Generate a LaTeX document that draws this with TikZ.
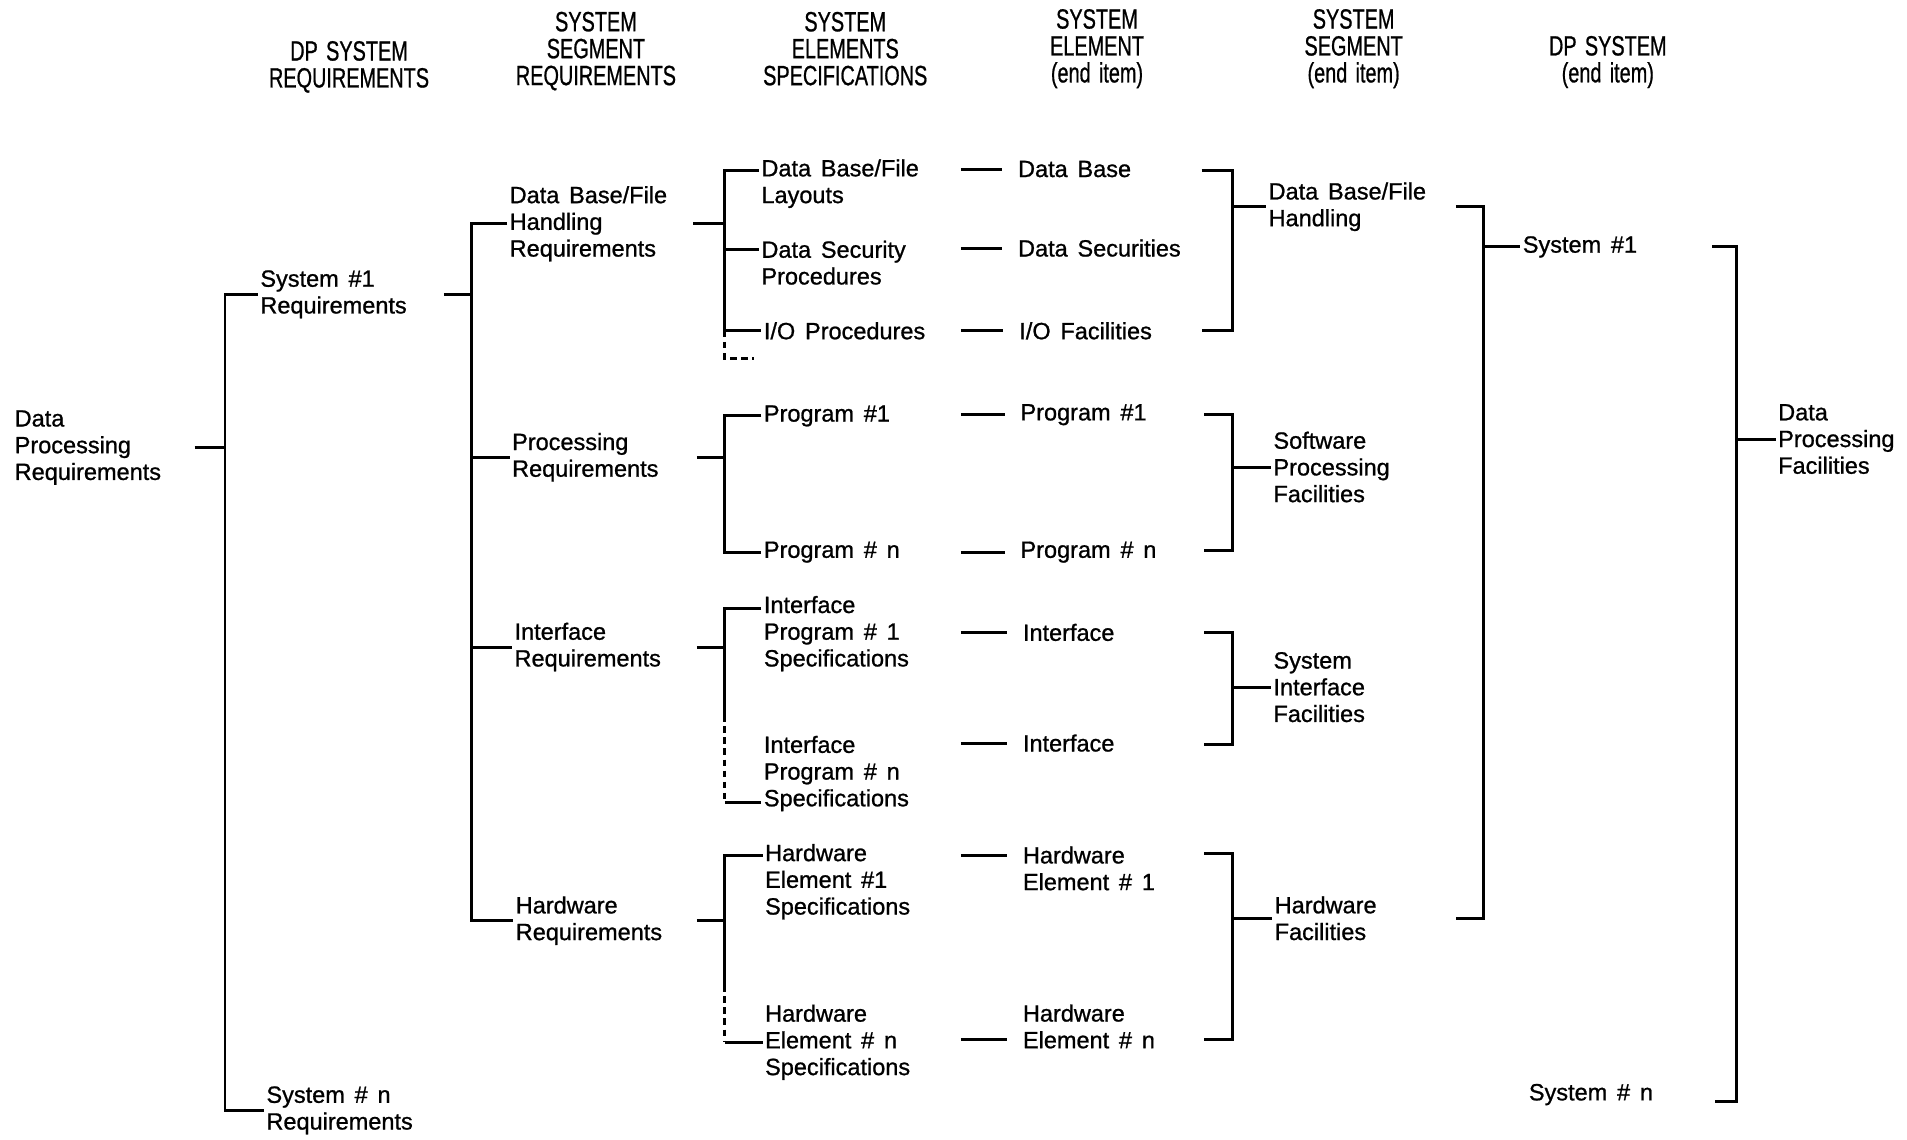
\documentclass[tikz,border=0pt]{standalone}
\usepackage{fontspec}
\setmainfont{Liberation Sans}[FakeBold=0.9, WordSpace=1.5]
\begin{document}
\begin{tikzpicture}[x=0.02cm,y=-0.02cm,
  lbl/.style={anchor=west,align=left,inner sep=1pt,font=\fontsize{11}{12.5}\selectfont},
  hdr/.style={align=center,inner sep=0pt,font=\fontsize{9.3}{9}\selectfont,yscale=1.4,transform shape},
  wire/.style={line width=1.4pt},
  gap/.style={line width=1.4pt,dash pattern=on 3pt off 2.2pt},
  tie/.style={wire,shorten >=0.22cm}]
\useasboundingbox (0,0) rectangle (1568,937);

% ---------- column headings ----------
\node[hdr] (h1) at (287,55) {DP SYSTEM\\REQUIREMENTS};
\node[hdr] (h2) at (490,42) {SYSTEM\\SEGMENT\\REQUIREMENTS};
\node[hdr] (h3) at (695,40) {SYSTEM\\ELEMENTS\\SPECIFICATIONS};
\node[hdr] (h4) at (902,40) {SYSTEM\\ELEMENT\\(end item)};
\node[hdr] (h5) at (1113,40) {SYSTEM\\SEGMENT\\(end item)};
\node[hdr] (h6) at (1322,51) {DP SYSTEM\\(end item)};

% ---------- requirements side ----------
\node[lbl] (dpr) at (10,368) {Data\\Processing\\Requirements};
\node[lbl] (sys1r) at (212,242) {System \#1\\Requirements};
\node[lbl] (sysnr) at (217,913) {System \# n\\Requirements};

\node[lbl] (dbfh) at (417,184) {Data Base/File\\Handling\\Requirements};
\node[lbl] (procr) at (419,376) {Processing\\Requirements};
\node[lbl] (intr) at (421,532) {Interface\\Requirements};
\node[lbl] (hwr) at (422,757) {Hardware\\Requirements};

% specifications
\node[lbl] (dbl) at (624,151) {Data Base/File\\Layouts};
\node[lbl] (dsp) at (624,216) {Data Security\\Procedures};
\node[lbl] (iop) at (626,272) {I/O Procedures};
\node[lbl] (p1) at (626,342) {Program \#1};
\node[lbl] (pn) at (626,454) {Program \# n};
\node[lbl] (ip1) at (626,521) {Interface\\Program \# 1\\Specifications};
\node[lbl] (ipn) at (626,636) {Interface\\Program \# n\\Specifications};
\node[lbl] (he1) at (627,725) {Hardware\\Element \#1\\Specifications};
\node[lbl] (hen) at (627,857) {Hardware\\Element \# n\\Specifications};

% ---------- end item side ----------
\node[lbl] (eDB) at (835,139) {Data Base};
\node[lbl] (eDS) at (835,204) {Data Securities};
\node[lbl] (eIO) at (836,272) {I/O Facilities};
\node[lbl] (eP1) at (837,341) {Program \#1};
\node[lbl] (ePn) at (837,454) {Program \# n};
\node[lbl] (eI1) at (839,520) {Interface};
\node[lbl] (eIn) at (839,611) {Interface};
\node[lbl] (eH1) at (839,714) {Hardware\\Element \# 1};
\node[lbl] (eHn) at (839,844) {Hardware\\Element \# n};

\node[lbl] (sDB) at (1041,170) {Data Base/File\\Handling};
\node[lbl] (sSW) at (1045,384) {Software\\Processing\\Facilities};
\node[lbl] (sSI) at (1045,565) {System\\Interface\\Facilities};
\node[lbl] (sHW) at (1046,755) {Hardware\\Facilities};

\node[lbl] (sys1) at (1250,203) {System \#1};
\node[lbl] (sysn) at (1255,900) {System \# n};
\node[lbl] (dpf) at (1460,361) {Data\\Processing\\Facilities};

% ---------- level 0 -> 1 ----------
\coordinate (dprO) at (160,368);
\coordinate (j0) at (185,368);
\draw[wire] (dprO) -- (j0);
\draw[wire] (sys1r.west) -| (j0) |- (sysnr.west);

% ---------- level 1 -> 2 ----------
\coordinate (s1O) at (365,242);
\coordinate (j1) at (388,242);
\draw[wire] (s1O) -- (j1);
\draw[wire] (dbfh.west) -| (j1) |- (hwr.west);
\draw[wire] (j1 |- procr.west) -- (procr.west);
\draw[wire] (j1 |- intr.west) -- (intr.west);

% ---------- level 2 -> 3 ----------
% data base / file handling
\coordinate (aO) at (570,184);
\coordinate (jA) at (596,184);
\coordinate (rA1) at (596,140);
\coordinate (rA2) at (596,205);
\coordinate (rA3) at (596,272);
\coordinate (rA4) at (596,295);
\coordinate (rA5) at (620,295);
\draw[wire] (aO) -- (jA);
\draw[wire] (dbl.west |- rA1) -- (rA1) -- (rA3) -- (iop.west);
\draw[wire] (rA2) -- (rA2 -| dsp.west);
\draw[gap] (rA3) -- (rA4) -- (rA5);

% processing
\coordinate (bO) at (573,376);
\coordinate (jB) at (596,376);
\draw[wire] (bO) -- (jB);
\draw[wire] (p1.west) -| (jB) |- (pn.west);

% interface
\coordinate (cO) at (573,532);
\coordinate (jC) at (596,532);
\coordinate (rC1) at (596,500);
\coordinate (rC2) at (596,588);
\coordinate (rC3) at (596,660);
\draw[wire] (cO) -- (jC);
\draw[wire] (rC1 -| ip1.west) -- (rC1) -- (rC2);
\draw[gap] (rC2) -- (rC3);
\draw[wire] (rC3) -- (rC3 -| ipn.west);

% hardware
\coordinate (dO) at (573,757);
\coordinate (jD) at (596,757);
\coordinate (rD1) at (596,703);
\coordinate (rD2) at (596,810);
\coordinate (rD3) at (596,857);
\draw[wire] (dO) -- (jD);
\draw[wire] (rD1 -| he1.west) -- (rD1) -- (rD2);
\draw[gap] (rD2) -- (rD3);
\draw[wire] (rD3) -- (hen.west);

% ---------- specification -> end item ties ----------
\foreach \n/\y in {eDB/139,eDS/204,eIO/272,eP1/341,ePn/454,eI1/520,eIn/611,eH1/703,eHn/855}{
  \coordinate (t\n) at (790,\y);
  \draw[tie] (t\n) -- (t\n -| \n.west);
}

% ---------- end items -> segments ----------
\coordinate (kA1) at (988,140);
\coordinate (kA2) at (988,272);
\coordinate (kB1) at (990,341);
\coordinate (kB2) at (990,453);
\coordinate (kC1) at (990,520);
\coordinate (kC2) at (990,612);
\coordinate (kD1) at (990,702);
\coordinate (kD2) at (990,855);
\coordinate (xA) at (1013,170);
\coordinate (xB) at (1013,384);
\coordinate (xC) at (1013,565);
\coordinate (xD) at (1013,755);
\draw[wire] (kA1) -| (xA) |- (kA2);
\draw[wire] (xA) -- (sDB.west);
\draw[wire] (kB1) -| (xB) |- (kB2);
\draw[wire] (xB) -- (sSW.west);
\draw[wire] (kC1) -| (xC) |- (kC2);
\draw[wire] (xC) -- (sSI.west);
\draw[wire] (kD1) -| (xD) |- (kD2);
\draw[wire] (xD) -- (sHW.west);

% ---------- segments -> system ----------
\coordinate (mA) at (1197,170);
\coordinate (mD) at (1197,755);
\coordinate (xS) at (1220,203);
\draw[wire] (mA) -| (xS) |- (mD);
\draw[wire] (xS) -- (sys1.west);

% ---------- systems -> data processing facilities ----------
\coordinate (n1) at (1408,203);
\coordinate (n2) at (1410,906);
\coordinate (xP) at (1428,361);
\draw[wire] (n1) -| (xP) |- (n2);
\draw[wire] (xP) -- (dpf.west);
\end{tikzpicture}
\end{document}
